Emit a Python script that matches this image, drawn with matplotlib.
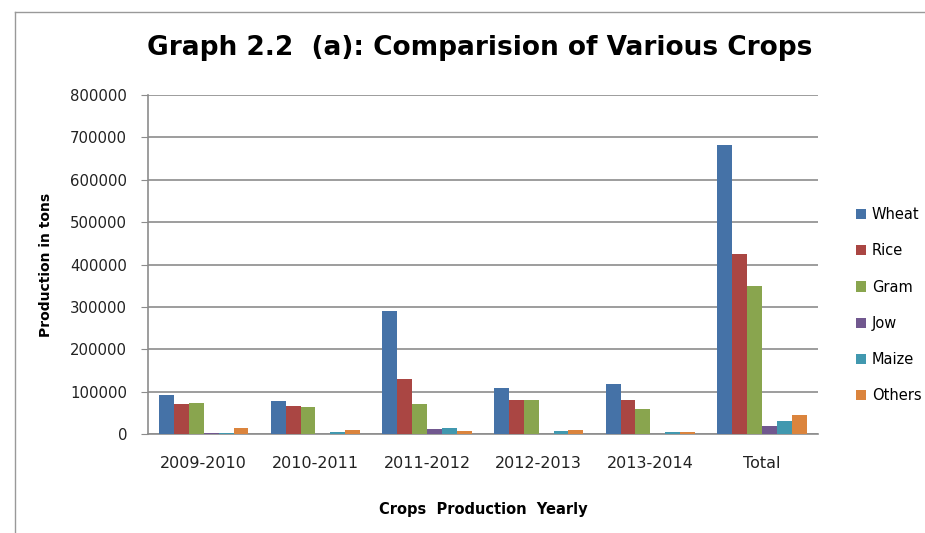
import numpy as np
import matplotlib.pyplot as plt
from matplotlib.lines import Line2D

years = ['2009-2010', '2010-2011', '2011-2012', '2012-2013', '2013-2014', 'Total']
crops = ['Wheat', 'Rice', 'Gram', 'Jow', 'Maize', 'Others']
wheat = [91000, 77000, 290000, 108000, 119000, 683000]
rice = [70000, 67000, 129000, 80000, 80000, 425000]
gram = [73000, 64000, 70000, 80000, 60000, 349000]
jow = [2500, 0, 11000, 0, 0, 18000]
maize = [2500, 4000, 14000, 7000, 4000, 31000]
others = [14000, 10000, 7000, 10000, 4000, 45000]
colors = ['#4572A7', '#AA4643', '#89A54E', '#71588F', '#4198AF', '#DB843D']

series = [wheat, rice, gram, jow, maize, others]

fig = plt.figure(figsize=(9.25, 5.33), dpi=100)
ax = fig.add_axes([0.160, 0.1857, 0.724, 0.636])

x = np.arange(len(years))
w = 0.8 / len(crops)
for i, (name, vals) in enumerate(zip(crops, series)):
    ax.bar(x - 0.4 + w * (i + 0.5), vals, width=w, color=colors[i], label=name,
           edgecolor='none', zorder=3)

ax.set_xlim(-0.5, len(years) - 0.5)
ax.set_ylim(0, 800000)
ax.set_yticks(np.arange(0, 800001, 100000))
ax.yaxis.grid(True, color='#8c8c8c', linewidth=1.2, zorder=0)
ax.set_xticks(x)
ax.set_xticklabels(years, fontsize=11.5, color='#222222')
ax.tick_params(axis='x', length=0, pad=16)
ax.tick_params(axis='y', length=5, color='#8c8c8c', labelsize=10.7, colors='#222222', pad=10)
for s in ['top', 'right']:
    ax.spines[s].set_visible(False)
ax.spines['left'].set_color('#8c8c8c')
ax.spines['bottom'].set_color('#8c8c8c')
ax.spines['left'].set_linewidth(1.2)
ax.spines['bottom'].set_linewidth(1.2)

ax.set_ylabel('Production in tons', fontsize=10, fontweight='bold', labelpad=12)
ax.set_xlabel('Crops  Production  Yearly', fontsize=10.5, fontweight='bold', labelpad=22)

fig.text(0.519, 0.91, 'Graph 2.2  (a): Comparision of Various Crops', fontsize=19,
         fontweight='bold', ha='center', va='center', color='black')

ax.legend(loc='center left', bbox_to_anchor=(1.0, 0.38), frameon=False, fontsize=10.5,
          handlelength=0.7, handleheight=0.7, labelspacing=1.45, handletextpad=0.4,
          borderaxespad=2.2)

# outer frame of the chart area
fig.add_artist(Line2D([0.016, 0.016], [0.0, 0.978], color='#999999', linewidth=1.0))
fig.add_artist(Line2D([0.016, 1.0], [0.978, 0.978], color='#999999', linewidth=1.0))

fig.savefig('out.png', dpi=100)
